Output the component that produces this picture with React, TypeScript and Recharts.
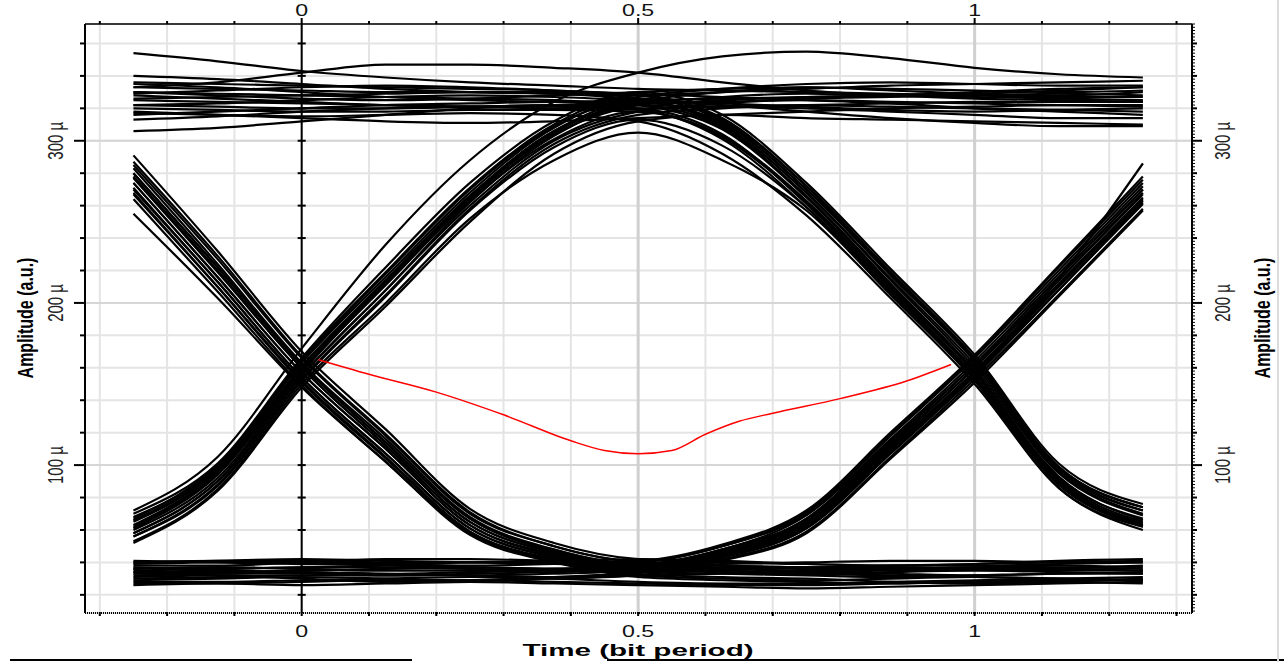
import { LineChart, Line, XAxis, YAxis, CartesianGrid, ReferenceLine } from 'recharts';

// sample instants across 1.5 bit periods
const T = [-0.25, -0.125, 0, 0.125, 0.25, 0.375, 0.5, 0.625, 0.75, 0.875, 1, 1.125, 1.25];

// traces grouped by bit pattern (prev, current, next), amplitude in micro units
const EYE_010 = [
  [58, 90, 155, 208, 262, 303, 322, 308, 266, 212, 158, 93, 66],
  [66, 98, 163, 216, 268, 308, 326, 312, 270, 218, 165, 98, 72],
  [53, 85, 150, 200, 252, 288, 305, 288, 257, 205, 152, 86, 62],
  [70, 101, 166, 222, 274, 312, 330, 316, 274, 221, 168, 101, 76],
  [61, 94, 158, 211, 263, 301, 318, 302, 262, 209, 157, 90, 64],
  [63, 96, 160, 214, 266, 306, 324, 309, 268, 214, 160, 95, 69],
  [56, 87, 152, 204, 257, 296, 313, 297, 259, 207, 154, 88, 63],
  [68, 99, 165, 219, 271, 310, 328, 313, 272, 219, 166, 99, 74],
];
const EYE_011 = [
  [60, 92, 157, 212, 264, 304, 322, 327, 329, 328, 327, 326, 325],
  [72, 105, 172, 236, 288, 324, 342, 352, 355, 351, 345, 341, 339],
  [56, 88, 153, 205, 258, 298, 316, 320, 322, 321, 320, 319, 318],
  [65, 97, 161, 214, 266, 306, 324, 330, 333, 332, 331, 330, 331],
  [52, 84, 148, 198, 250, 292, 312, 316, 314, 313, 312, 311, 310],
  [62, 95, 159, 213, 265, 305, 323, 324, 325, 324, 323, 322, 322],
  [58, 90, 155, 208, 260, 300, 318, 323, 326, 327, 328, 329, 328],
  [67, 100, 164, 218, 270, 309, 327, 332, 335, 336, 335, 334, 334],
];
const EYE_110 = [
  [330, 329, 328, 327, 326, 325, 322, 307, 265, 211, 158, 92, 67],
  [322, 321, 320, 320, 321, 322, 320, 304, 261, 208, 155, 89, 63],
  [336, 335, 334, 333, 332, 331, 328, 314, 272, 219, 166, 99, 74],
  [317, 316, 315, 316, 317, 316, 312, 292, 254, 203, 150, 86, 60],
  [326, 327, 328, 329, 330, 330, 326, 310, 268, 215, 162, 96, 70],
  [320, 319, 318, 318, 319, 319, 318, 303, 263, 210, 157, 91, 65],
  [333, 332, 331, 330, 330, 329, 325, 311, 270, 217, 164, 97, 72],
  [328, 326, 324, 322, 321, 321, 319, 301, 259, 206, 153, 88, 62],
];
const EYE_101 = [
  [278, 220, 160, 112, 65, 46, 38, 46, 65, 112, 160, 214, 268],
  [287, 229, 167, 119, 71, 50, 41, 50, 71, 119, 167, 222, 276],
  [268, 210, 151, 104, 59, 42, 35, 42, 59, 105, 153, 205, 258],
  [255, 203, 148, 102, 58, 41, 34, 44, 62, 109, 157, 215, 286],
  [283, 224, 163, 116, 68, 48, 39, 48, 69, 116, 164, 218, 272],
  [274, 216, 157, 110, 63, 45, 37, 45, 63, 110, 157, 211, 264],
  [280, 222, 162, 114, 67, 47, 38, 47, 67, 114, 162, 216, 270],
  [271, 213, 154, 107, 61, 43, 36, 43, 61, 107, 155, 208, 261],
];
const EYE_100 = [
  [274, 216, 157, 110, 63, 44, 36, 34, 33, 34, 35, 34, 33],
  [291, 232, 170, 122, 73, 52, 42, 40, 39, 38, 38, 39, 40],
  [264, 207, 149, 102, 57, 40, 32, 30, 29, 30, 31, 30, 29],
  [280, 222, 162, 114, 67, 47, 38, 37, 36, 36, 37, 36, 35],
  [270, 213, 154, 107, 61, 43, 33, 31, 30, 28, 27, 28, 30],
  [277, 219, 160, 112, 65, 46, 37, 35, 34, 35, 36, 37, 36],
  [285, 227, 166, 118, 70, 50, 40, 38, 37, 36, 35, 36, 38],
  [267, 210, 152, 105, 59, 41, 31, 29, 28, 27, 28, 29, 29],
];
const EYE_001 = [
  [34, 35, 34, 33, 34, 35, 36, 45, 64, 111, 158, 212, 265],
  [39, 40, 40, 39, 38, 39, 40, 50, 70, 118, 166, 220, 274],
  [29, 30, 31, 30, 29, 30, 32, 41, 58, 104, 151, 204, 257],
  [37, 36, 37, 38, 37, 36, 38, 48, 67, 115, 162, 216, 270],
  [31, 32, 30, 28, 29, 31, 34, 43, 61, 108, 155, 208, 262],
  [36, 37, 36, 35, 35, 36, 37, 46, 66, 113, 160, 214, 267],
  [33, 33, 33, 32, 32, 33, 35, 44, 62, 109, 156, 210, 263],
  [40, 41, 41, 40, 40, 40, 41, 51, 72, 120, 168, 223, 278],
];
const EYE_000 = [
  [40, 41, 42, 41, 40, 39, 38, 39, 40, 41, 41, 40, 40],
  [36, 37, 36, 35, 35, 36, 37, 36, 35, 36, 37, 38, 37],
  [32, 33, 34, 33, 32, 31, 32, 33, 34, 33, 32, 33, 34],
  [28, 28, 29, 30, 31, 30, 28, 27, 27, 28, 29, 30, 31],
  [26, 27, 26, 27, 28, 27, 26, 25, 24, 25, 26, 27, 28],
  [38, 38, 40, 42, 42, 41, 40, 38, 37, 38, 39, 40, 41],
  [30, 31, 32, 32, 33, 34, 35, 34, 33, 32, 31, 30, 29],
  [34, 34, 35, 36, 37, 36, 34, 33, 32, 31, 32, 33, 33],
  [41, 40, 39, 39, 40, 41, 42, 41, 39, 38, 39, 41, 42],
  [27, 27, 28, 29, 29, 28, 27, 26, 26, 27, 28, 28, 27],
  [35, 36, 37, 37, 36, 35, 35, 36, 37, 37, 36, 35, 35],
];
const EYE_111 = [
  [354, 349, 343, 339, 336, 334, 332, 331, 330, 329, 328, 327, 327],
  [333, 336, 342, 347, 347, 345, 342, 336, 331, 328, 326, 325, 324],
  [340, 338, 335, 332, 330, 329, 328, 330, 332, 334, 335, 336, 337],
  [306, 308, 312, 316, 320, 322, 324, 322, 318, 314, 311, 309, 309],
  [313, 315, 318, 320, 321, 322, 322, 321, 320, 318, 316, 314, 314],
  [325, 324, 323, 322, 321, 320, 320, 321, 322, 323, 324, 324, 324],
  [318, 316, 314, 312, 311, 312, 314, 316, 318, 320, 321, 322, 321],
  [329, 331, 333, 334, 333, 331, 329, 327, 325, 323, 320, 318, 316],
  [330, 328, 326, 325, 326, 328, 330, 332, 333, 331, 329, 328, 330],
  [322, 323, 325, 327, 328, 327, 325, 323, 321, 319, 318, 319, 320],
  [316, 318, 320, 322, 323, 324, 323, 325, 327, 328, 329, 331, 333],
  [335, 333, 330, 327, 325, 324, 325, 326, 327, 328, 330, 332, 333],
];

// red decision curve
const RED_T = [0.025, 0.1, 0.2, 0.3, 0.4, 0.45, 0.5, 0.55, 0.6, 0.65, 0.7, 0.8, 0.9, 0.965];
const RED_V = [165, 156, 145, 131, 115, 109, 107, 109, 119, 127, 132, 141, 152, 162];

const X_TICKS = [-0.3, -0.2, -0.1, 0, 0.1, 0.2, 0.3, 0.4, 0.5, 0.6, 0.7, 0.8, 0.9, 1, 1.1, 1.2, 1.3];
const X_LABELS = [0, 0.5, 1];
const Y_TICKS = [20, 40, 60, 80, 100, 120, 140, 160, 180, 200, 220, 240, 260, 280, 300, 320, 340, 360];
const Y_LABELS = [100, 200, 300];
const Y_MINOR = Array.from({ length: 182 }, (_, i) => 10 + 2 * i);

const X_DOMAIN: [number, number] = [-0.322, 1.323];
const Y_DOMAIN: [number, number] = [8.8, 372];

const FONT = '"Liberation Sans", Arial, sans-serif';

const TRACES = [...EYE_111, ...EYE_000, ...EYE_010, ...EYE_011, ...EYE_110, ...EYE_101, ...EYE_100, ...EYE_001];
const rows = T.map((t, i) => {
  const row: Record<string, number> = { t };
  TRACES.forEach((tr, k) => {
    row[`s${k}`] = tr[i];
  });
  return row;
});
const redData = RED_T.map((t, i) => ({ t, v: RED_V[i] }));

const near = (list: number[], v: number) => list.find((l) => Math.abs(l - v) < 1e-6);

function BottomTick(props: any) {
  const { x, y, payload } = props;
  const lab = near(X_LABELS, payload.value);
  return (
    <g>
      <line x1={x} x2={x} y1={y - 1} y2={y + 3} stroke="#000" strokeWidth={2} />
      {lab !== undefined && (
        <text transform={`translate(${x},${y + 24}) scale(1.45,1)`} textAnchor="middle" fontSize={16} fontFamily={FONT} fill="#111">
          {String(lab)}
        </text>
      )}
    </g>
  );
}

function TopTick(props: any) {
  const { x, y, payload } = props;
  const lab = near(X_LABELS, payload.value);
  return (
    <g>
      <line x1={x} x2={x} y1={y - (lab !== undefined ? 6 : 3)} y2={y} stroke="#000" strokeWidth={2} />
      {lab !== undefined && (
        <text transform={`translate(${x},${y - 8}) scale(1.45,1)`} textAnchor="middle" fontSize={16} fontFamily={FONT} fill="#111">
          {String(lab)}
        </text>
      )}
    </g>
  );
}

function LeftTick(props: any) {
  const { x, y, payload } = props;
  const lab = near(Y_LABELS, payload.value);
  return (
    <g>
      <line x1={x - (lab !== undefined ? 11 : 5)} x2={x} y1={y} y2={y} stroke="#000" strokeWidth={2} />
      {lab !== undefined && (
        <text transform={`translate(${x - 22},${y}) scale(1.45,1) rotate(-90)`} textAnchor="middle" fontSize={15} fontFamily={FONT} fill="#222">
          {`${lab} µ`}
        </text>
      )}
    </g>
  );
}

function RightTick(props: any) {
  const { x, y, payload } = props;
  const v = Math.round(payload.value);
  const lab = near(Y_LABELS, v);
  const len = lab !== undefined ? 10 : v % 20 === 0 ? 5 : 3;
  return (
    <g>
      <line x1={x} x2={x + len} y1={y} y2={y} stroke="#000" strokeWidth={v % 20 === 0 ? 2 : 1} />
      {lab !== undefined && (
        <text transform={`translate(${x + 38},${y}) scale(1.45,1) rotate(-90)`} textAnchor="middle" fontSize={15} fontFamily={FONT} fill="#222">
          {`${lab} µ`}
        </text>
      )}
    </g>
  );
}

const ampLabel = (cx: number) => () => (
  <text transform={`translate(${cx},318) scale(1.4,1) rotate(-90)`} textAnchor="middle" fontSize={16} fontWeight="bold" fontFamily={FONT} fill="#000">
    Amplitude (a.u.)
  </text>
);

const timeLabel = () => (
  <text transform="translate(638,656) scale(1.85,1)" textAnchor="middle" fontSize={16} fontWeight="bold" fontFamily={FONT} fill="#000">
    Time (bit period)
  </text>
);

export default function App() {
  return (
    <div style={{ position: 'absolute', left: 0, top: 0, width: 1284, height: 662, background: '#fff', overflow: 'hidden' }}>
      <LineChart width={1284} height={662} data={rows} margin={{ top: 0, right: 32, bottom: 19, left: 25 }}>
        <CartesianGrid stroke="#e4e4e4" strokeWidth={2} />
        <XAxis
          dataKey="t"
          type="number"
          domain={X_DOMAIN}
          allowDataOverflow
          ticks={X_TICKS}
          interval={0}
          height={30}
          tickSize={0}
          tickMargin={0}
          tick={(p: any) => <BottomTick {...p} />}
          axisLine={{ stroke: '#000', strokeWidth: 2, strokeDasharray: '1 1' }}
          tickLine={false}
          label={{ content: timeLabel }}
        />
        <XAxis
          xAxisId="top"
          orientation="top"
          dataKey="t"
          type="number"
          domain={X_DOMAIN}
          allowDataOverflow
          ticks={X_TICKS}
          interval={0}
          height={24}
          tickSize={0}
          tickMargin={0}
          tick={(p: any) => <TopTick {...p} />}
          axisLine={{ stroke: '#000', strokeWidth: 1.5 }}
          tickLine={false}
        />
        <YAxis
          type="number"
          domain={Y_DOMAIN}
          allowDataOverflow
          ticks={Y_TICKS}
          interval={0}
          width={60}
          tickSize={0}
          tickMargin={0}
          tick={(p: any) => <LeftTick {...p} />}
          axisLine={{ stroke: '#000', strokeWidth: 2 }}
          tickLine={false}
          label={{ content: ampLabel(33) }}
        />
        <YAxis
          yAxisId="right"
          orientation="right"
          type="number"
          domain={Y_DOMAIN}
          allowDataOverflow
          ticks={Y_MINOR}
          interval={0}
          width={60}
          tickSize={0}
          tickMargin={0}
          tick={(p: any) => <RightTick {...p} />}
          axisLine={{ stroke: '#000', strokeWidth: 2 }}
          tickLine={false}
          label={{ content: ampLabel(1270) }}
        />
        {Y_LABELS.map((v) => (
          <ReferenceLine key={`h${v}`} y={v} stroke="#d6d6d6" strokeWidth={2} />
        ))}
        <ReferenceLine x={0.5} stroke="#d0d0d0" strokeWidth={3} />
        <ReferenceLine x={1} stroke="#d0d0d0" strokeWidth={3} />
        <ReferenceLine x={0} stroke="#000" strokeWidth={2} />
        {Y_TICKS.map((v) => (
          <ReferenceLine
            key={`z${v}`}
            segment={[
              { x: -0.006, y: v },
              { x: 0.006, y: v },
            ]}
            stroke="#000"
            strokeWidth={2}
          />
        ))}
        {TRACES.map((_, k) => (
          <Line
            key={k}
            dataKey={`s${k}`}
            type="monotone"
            stroke="#000"
            strokeWidth={2.2}
            dot={false}
            activeDot={false}
            isAnimationActive={false}
          />
        ))}
        <Line data={redData} dataKey="v" type="monotone" stroke="#ff0000" strokeWidth={1.5} dot={false} activeDot={false} isAnimationActive={false} />
      </LineChart>
      <div style={{ position: 'absolute', left: 10, top: 659, width: 402, height: 2, background: '#000' }} />
      <div style={{ position: 'absolute', left: 607, top: 659, width: 677, height: 2, background: '#000' }} />
      <div style={{ position: 'absolute', left: 1277, top: 0, width: 2, height: 662, background: '#dcdcdc' }} />
    </div>
  );
}
